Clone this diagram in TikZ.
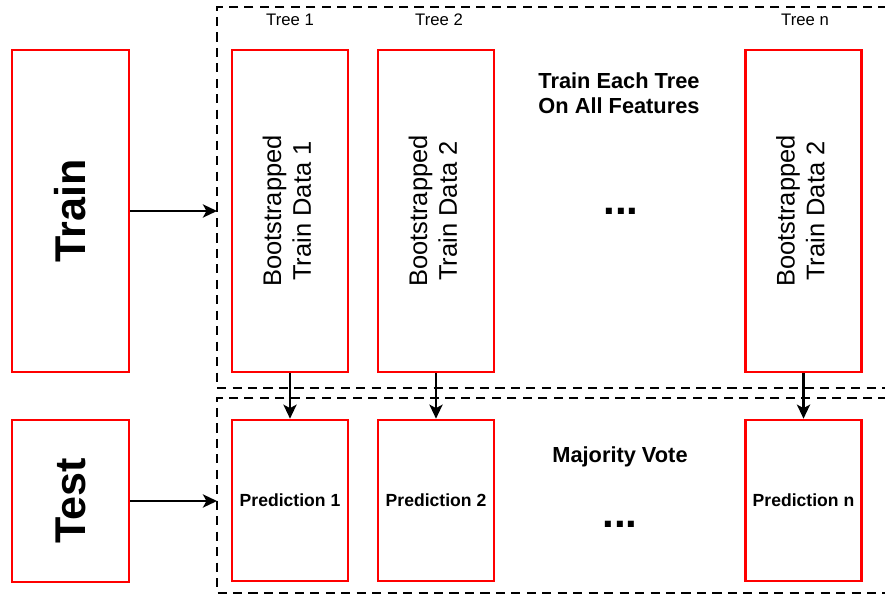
\documentclass[tikz,border=0pt]{standalone}
\usepackage{fontspec}
\setmainfont{Liberation Sans}
\usepackage{graphicx}
\usepackage{tikz}
\usetikzlibrary{arrows.meta}

\tikzset{
  redbox/.style={draw=red, line width=1.5pt, minimum width=2.32cm, inner sep=0pt},
  dashbox/.style={line width=1.4pt, dash pattern=on 5.2pt off 3.6pt},
  arr/.style={line width=1.3pt, -{Stealth[length=8pt, width=7.5pt, inset=2pt]}},
  treelabel/.style={font=\fontsize{9.5}{11}\selectfont},
  predtext/.style={font=\fontsize{10}{12}\selectfont\bfseries},
  headtext/.style={font=\fontsize{12.4}{14.5}\selectfont\bfseries, align=center},
  dotstext/.style={font=\fontsize{24}{28}\selectfont\bfseries}
}

\newcommand{\boottext}[1]{\rotatebox{90}{\fontsize{14.5}{17}\selectfont\begin{tabular}{@{}c@{}}Bootstrapped\\Train Data #1\end{tabular}}}

\begin{document}
\begin{tikzpicture}
            \useasboundingbox (0,0) rectangle (17.7,11.94);

            % Train / Test
            \node[redbox, minimum width=2.34cm, minimum height=6.44cm] (train) at (1.41,7.72)
                {\rotatebox{90}{\fontsize{24.5}{28}\selectfont\bfseries Train}};
            \node[redbox, minimum width=2.34cm, minimum height=3.24cm] (test) at (1.41,1.92)
                {\rotatebox{90}{\fontsize{24.5}{28}\selectfont\bfseries Test}};

            % Dashed regions
            \draw[dashbox] (17.75,11.80) -- (4.34,11.80) -- (4.34,4.18) -- (17.75,4.18);
            \draw[dashbox] (17.75,3.98) -- (4.34,3.98) -- (4.34,0.08) -- (17.75,0.08);
            \coordinate (trainin) at (4.34,7.72);
            \coordinate (testin) at (4.34,1.92);

            % Trees
            \node[redbox, minimum height=6.44cm] (t1) at (5.80,7.72) {\boottext{1}};
            \node[redbox, minimum height=6.44cm] (t2) at (8.72,7.72) {\boottext{2}};
            \node[redbox, minimum height=6.44cm] (tn) at (16.07,7.72) {\boottext{2}};
            \node[treelabel] (l1) at (5.80,11.54) {Tree 1};
            \node[treelabel] (l2) at (8.78,11.54) {Tree 2};
            \node[treelabel] (ln) at (16.10,11.54) {Tree n};
            \node[headtext] (head) at (12.38,10.08) {Train Each Tree\\On All Features};
            \node[dotstext] (dots1) at (12.42,7.72) {...};

            % Predictions
            \node[redbox, minimum height=3.22cm] (p1) at (5.80,1.93) {};
            \node[redbox, minimum height=3.22cm] (p2) at (8.72,1.93) {};
            \node[redbox, minimum height=3.22cm] (pn) at (16.07,1.93) {};
            \node[predtext] at (p1) {Prediction 1};
            \node[predtext] at (p2) {Prediction 2};
            \node[predtext] at (pn) {Prediction n};
            \node[headtext] (vote) at (12.40,2.80) {Majority Vote};
            \node[dotstext] (dots2) at (12.40,1.45) {...};

            % Arrows
            \draw[arr] (train.east) -- (trainin);
            \draw[arr] (test.east) -- (testin);
            \draw[arr] (t1.south) -- (p1.north);
            \draw[arr] (t2.south) -- (p2.north);
            \draw[arr] (tn.south) -- (pn.north);
\end{tikzpicture}
\end{document}
